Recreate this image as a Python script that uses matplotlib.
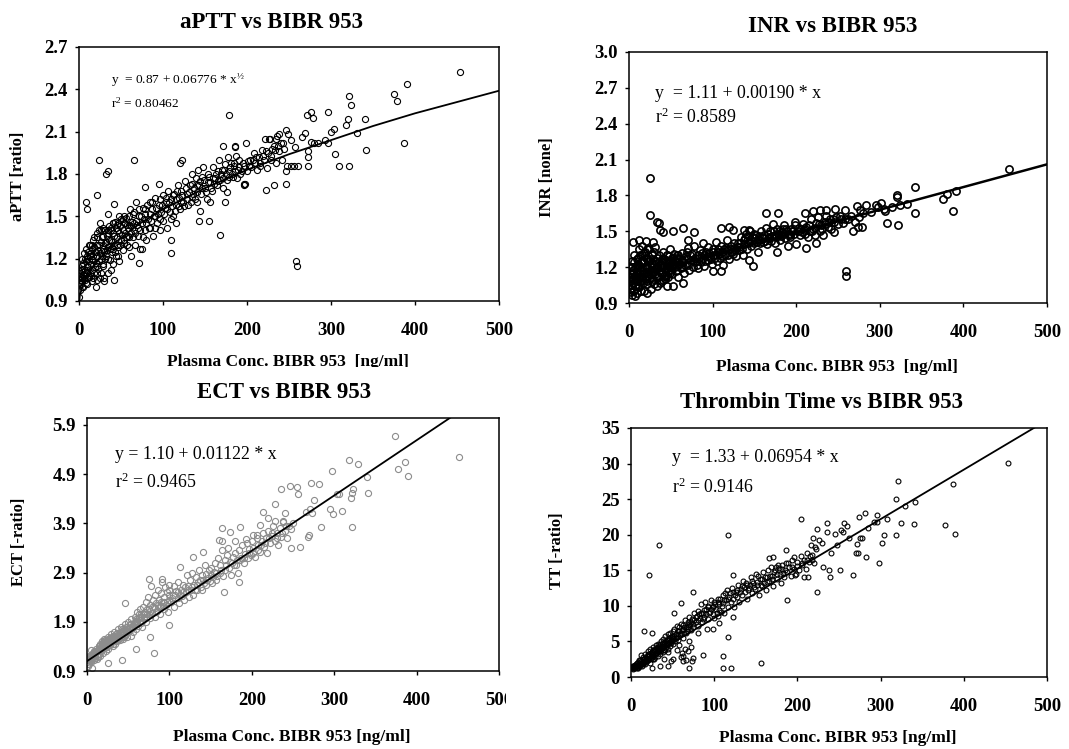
import matplotlib
matplotlib.use('Agg')
import matplotlib.pyplot as plt
from matplotlib.patches import Rectangle

plt.rcParams['font.family'] = ['Liberation Serif', 'DejaVu Serif']
plt.rcParams['mathtext.fontset'] = 'custom'
plt.rcParams['mathtext.rm'] = 'Liberation Serif'
plt.rcParams['mathtext.it'] = 'Liberation Serif:italic'
plt.rcParams['mathtext.bf'] = 'Liberation Serif:bold'

# ---- data: (plasma conc ng/ml, value) ----
aptt_points = [
    (0.5, 1.03), (1, 1.05), (1.5, 1.08), (2, 1.02), (2, 1.12), (3, 1.06), (3, 1.15), (4, 1.04), (4, 1.2),
    (5, 1.09), (5, 1.0), (1, 0.98), (0.5, 0.93), (6, 1.13), (6, 1.24), (7, 1.05), (8, 1.18), (8, 1.27),
    (9, 1.1), (10, 1.02), (10, 1.2), (11, 1.14), (12, 1.3), (12, 1.07), (13, 1.22), (14, 1.16), (15, 1.04),
    (15, 1.27), (16, 1.19), (17, 1.33), (18, 1.1), (19, 1.25), (20, 1.0), (20, 1.17), (21, 1.38), (22, 1.22),
    (23, 1.13), (24, 1.3), (25, 1.45), (25, 1.06), (26, 1.2), (27, 1.35), (28, 1.27), (29, 1.15), (30, 1.4),
    (30, 1.04), (31, 1.31), (32, 1.22), (33, 1.36), (34, 1.1), (35, 1.28), (36, 1.43), (37, 1.19), (38, 1.33),
    (39, 1.25), (40, 1.38), (41, 1.16), (42, 1.3), (43, 1.46), (44, 1.22), (45, 1.35), (46, 1.4), (47, 1.28),
    (48, 1.18), (49, 1.43), (50, 1.33), (50, 1.48),
    (1, 1.1), (2, 1.07), (3, 1.0), (4, 1.13), (5, 1.17), (6, 1.06), (7, 1.2), (7, 1.12), (8, 1.03), (9, 1.22),
    (9, 1.15), (10, 1.12), (11, 1.25), (11, 1.06), (12, 1.18), (13, 1.1), (13, 1.3), (14, 1.24), (14, 1.08),
    (15, 1.2), (16, 1.12), (16, 1.3), (17, 1.06), (17, 1.22), (18, 1.28), (18, 1.35), (19, 1.14), (20, 1.25),
    (21, 1.1), (21, 1.3), (22, 1.15), (22, 1.35), (23, 1.26), (24, 1.18), (24, 1.4), (25, 1.24), (26, 1.32),
    (26, 1.1), (27, 1.22), (28, 1.36), (28, 1.16), (29, 1.3), (30, 1.25), (31, 1.2), (31, 1.4), (32, 1.32),
    (33, 1.26), (34, 1.38), (35, 1.2), (36, 1.33), (37, 1.27), (38, 1.4), (39, 1.32), (40, 1.27), (41, 1.45),
    (42, 1.36), (43, 1.25), (44, 1.42), (45, 1.3), (46, 1.22), (47, 1.45), (48, 1.38), (49, 1.3), (52, 1.4),
    (54, 1.33), (55, 1.45), (58, 1.36), (60, 1.44), (62, 1.38), (22, 1.05), (30, 1.06), (38, 1.12),
    (52, 1.26), (53, 1.45), (55, 1.38), (56, 1.49), (57, 1.3), (58, 1.42), (60, 1.35), (61, 1.55), (62, 1.22),
    (63, 1.46), (65, 1.4), (66, 1.53), (67, 1.3), (68, 1.6), (69, 1.44), (70, 1.36), (72, 1.5), (73, 1.27),
    (75, 1.45), (76, 1.56), (78, 1.4), (79, 1.52), (80, 1.33), (82, 1.48), (84, 1.6), (85, 1.42), (87, 1.55),
    (88, 1.36), (90, 1.63), (91, 1.5), (93, 1.45), (95, 1.58), (96, 1.4), (98, 1.53), (100, 1.65), (100, 1.47),
    (102, 1.56), (104, 1.6), (105, 1.42), (106, 1.68), (108, 1.53), (110, 1.62), (112, 1.5), (113, 1.66),
    (115, 1.58), (116, 1.45), (118, 1.72), (119, 1.63), (120, 1.55), (122, 1.68), (124, 1.6), (126, 1.75),
    (128, 1.66), (130, 1.58), (132, 1.72), (134, 1.8), (135, 1.64), (137, 1.7), (139, 1.77), (140, 1.6),
    (142, 1.83), (143, 1.72), (145, 1.66), (147, 1.78), (148, 1.85), (150, 1.7), (152, 1.62), (154, 1.8),
    (156, 1.74), (158, 1.68), (160, 1.85), (162, 1.77), (164, 1.72), (165, 1.82), (167, 1.9), (168, 1.76),
    (170, 1.83), (172, 1.7), (174, 1.87), (175, 1.8), (177, 1.92), (178, 1.78), (180, 1.85), (182, 1.8),
    (184, 1.88), (186, 1.82), (188, 1.77), (190, 1.85), (192, 1.8), (195, 1.88), (198, 1.73), (200, 1.82),
    (203, 1.9), (205, 1.85), (208, 1.95), (210, 1.88), (212, 1.83), (214, 1.92), (216, 1.86), (218, 1.97),
    (220, 1.9), (222, 2.05), (224, 1.84), (225, 1.95), (227, 2.05), (229, 1.9), (230, 1.98), (232, 2.0),
    (234, 1.88), (236, 2.07), (238, 1.96), (240, 2.02), (242, 1.9), (244, 1.98), (280, 2.02), (285, 2.02),
    (293, 2.04), (235, 2.05), (226, 2.05), (238, 2.08),
    (51, 1.37), (53, 1.31), (54, 1.5), (56, 1.35), (57, 1.44), (59, 1.28), (60, 1.5), (62, 1.43), (64, 1.35),
    (64, 1.52), (66, 1.45), (67, 1.38), (68, 1.47), (70, 1.42), (71, 1.55), (73, 1.4), (74, 1.5), (76, 1.35),
    (77, 1.48), (78, 1.55), (80, 1.45), (81, 1.58), (83, 1.42), (84, 1.52), (86, 1.47), (87, 1.6), (89, 1.5),
    (90, 1.42), (92, 1.56), (94, 1.52), (96, 1.62), (97, 1.48), (99, 1.58), (101, 1.52), (103, 1.63),
    (105, 1.55), (107, 1.6), (109, 1.48), (111, 1.57), (112, 1.65), (114, 1.54), (116, 1.62), (117, 1.68),
    (119, 1.57), (121, 1.6), (123, 1.65), (125, 1.57), (127, 1.7), (129, 1.62), (131, 1.67), (133, 1.6),
    (134, 1.73), (136, 1.66), (138, 1.62), (140, 1.72), (141, 1.67), (144, 1.75), (146, 1.7), (149, 1.76),
    (151, 1.67), (153, 1.74), (155, 1.78), (157, 1.7), (159, 1.77), (161, 1.73), (163, 1.8), (166, 1.75),
    (169, 1.8), (171, 1.77), (173, 1.83), (176, 1.76), (179, 1.82), (181, 1.88), (183, 1.78), (185, 1.86),
    (189, 1.83), (191, 1.9), (194, 1.82), (197, 1.86), (202, 1.86), (207, 1.9), (211, 1.92), (215, 1.88),
    (219, 1.93), (223, 1.96), (228, 1.93), (233, 1.97), (237, 2.0), (243, 2.02), (40, 1.45), (45, 1.44),
    (48, 1.5), (52, 1.48), (35, 1.4), (38, 1.42), (26, 1.4), (28, 1.42),
    (454, 2.52), (390, 2.44), (375, 2.37), (378, 2.32), (387, 2.02), (322, 2.35), (324, 2.29), (320, 2.19),
    (318, 2.15), (321, 1.86), (341, 2.19), (342, 1.97), (331, 2.09), (297, 2.24), (297, 2.02), (300, 2.1),
    (303, 2.12), (305, 1.94), (310, 1.86), (276, 2.24), (272, 2.22), (278, 2.2), (276, 2.03), (273, 1.96),
    (273, 1.92), (273, 1.86), (269, 2.09), (266, 2.06), (247, 2.11), (249, 2.08), (252, 2.04), (257, 1.99),
    (248, 1.86), (252, 1.86), (256, 1.86), (261, 1.86), (247, 1.73), (246, 1.82), (232, 1.72), (223, 1.69),
    (258, 1.18), (259, 1.15), (179, 2.22), (186, 2.0), (186, 1.99), (187, 1.93), (172, 2.0), (199, 2.02),
    (201, 1.89), (197, 1.72), (196, 1.73), (168, 1.37), (174, 1.6), (176, 1.67), (120, 1.88), (123, 1.9),
    (110, 1.24), (110, 1.33), (72, 1.17), (75, 1.27), (65, 1.9), (24, 1.9), (32, 1.8), (34, 1.82), (21, 1.65),
    (8, 1.6), (9, 1.55), (34, 1.52), (42, 1.59), (79, 1.71), (95, 1.73), (144, 1.54), (143, 1.47),
    (155, 1.47), (156, 1.6), (42, 1.05),
]
aptt_fit_x = [0, 1, 5, 10, 20, 40, 70, 100, 150, 200, 250, 300, 350, 400, 450, 500]
aptt_fit_y = [0.87, 0.94, 1.02, 1.08, 1.17, 1.30, 1.44, 1.55, 1.70, 1.83, 1.94, 2.04, 2.14, 2.23, 2.31, 2.39]

inr_points = [
    (0.5, 1.08), (1, 1.02), (1, 1.15), (2, 1.1), (2, 0.99), (3, 1.2), (3, 1.05), (4, 1.12), (4, 0.97),
    (5, 1.18), (5, 1.07), (6, 1.24), (6, 1.01), (7, 1.13), (8, 1.2), (8, 1.05), (9, 1.27), (10, 1.1),
    (10, 0.98), (11, 1.16), (12, 1.22), (12, 1.03), (13, 1.3), (14, 1.08), (15, 1.18), (15, 1.38), (16, 1.12),
    (17, 1.25), (18, 1.0), (18, 1.15), (19, 1.33), (20, 1.2), (21, 1.06), (22, 1.27), (23, 1.13), (24, 1.35),
    (25, 1.18), (26, 1.02), (27, 1.23), (28, 1.3), (29, 1.1), (30, 1.17), (31, 1.37), (32, 1.25), (33, 1.04),
    (34, 1.2), (35, 1.13), (36, 1.3), (37, 1.22), (38, 1.08), (39, 1.27), (40, 1.16), (41, 1.33), (42, 1.21),
    (43, 1.1), (44, 1.26), (45, 1.19), (46, 1.3), (47, 1.12), (48, 1.24), (49, 1.35), (50, 1.18), (51, 1.28),
    (52, 1.14), (53, 1.22), (54, 1.31), (55, 1.25), (56, 1.17), (57, 1.3), (58, 1.21), (59, 1.12), (60, 1.27),
    (1, 1.12), (2, 1.05), (3, 1.14), (4, 1.2), (5, 1.0), (6, 1.1), (7, 1.19), (7, 1.04), (8, 1.14), (9, 1.08),
    (10, 1.22), (11, 1.04), (11, 1.28), (12, 1.12), (13, 1.18), (14, 1.24), (14, 1.0), (15, 1.1), (16, 1.2),
    (16, 1.3), (17, 1.07), (17, 1.15), (18, 1.24), (19, 1.1), (20, 1.13), (20, 1.28), (21, 1.2), (22, 1.08),
    (22, 1.16), (23, 1.24), (24, 1.1), (25, 1.27), (26, 1.14), (27, 1.08), (27, 1.31), (28, 1.2), (29, 1.16),
    (30, 1.25), (30, 1.06), (31, 1.14), (32, 1.19), (33, 1.28), (34, 1.11), (35, 1.24), (36, 1.17), (37, 1.07),
    (38, 1.2), (39, 1.14), (40, 1.24), (41, 1.09), (42, 1.27), (43, 1.18), (44, 1.13), (45, 1.3), (46, 1.22),
    (47, 1.17), (48, 1.29), (49, 1.15), (50, 1.25), (52, 1.2), (54, 1.26), (56, 1.24), (58, 1.28),
    (3, 1.25), (6, 1.3), (9, 1.18), (12, 1.35), (15, 1.25), (18, 1.32), (21, 1.35), (24, 1.25), (27, 1.18),
    (30, 1.33), (33, 1.2), (36, 1.24), (39, 1.2), (42, 1.13), (45, 1.24), (48, 1.2), (51, 1.22), (53, 1.28),
    (55, 1.2), (57, 1.25), (59, 1.3), (61, 1.23), (63, 1.26), (64, 1.2), (67, 1.22), (69, 1.33), (70, 1.27),
    (73, 1.3), (76, 1.25), (79, 1.28), (81, 1.22), (84, 1.28), (87, 1.32), (90, 1.3), (91, 1.25), (93, 1.29),
    (96, 1.32), (98, 1.27), (101, 1.33), (103, 1.28), (106, 1.35), (108, 1.31), (111, 1.33), (113, 1.29),
    (116, 1.36), (118, 1.3), (121, 1.35), (123, 1.33), (125, 1.4), (127, 1.34), (129, 1.37), (131, 1.37),
    (133, 1.4), (135, 1.35), (137, 1.43), (139, 1.44), (142, 1.4), (144, 1.46), (147, 1.42), (149, 1.48),
    (151, 1.44), (153, 1.41), (155, 1.46), (157, 1.4), (159, 1.45), (161, 1.44), (163, 1.42), (166, 1.48),
    (168, 1.44), (171, 1.46), (173, 1.5), (176, 1.45), (178, 1.48), (180, 1.5), (182, 1.46), (184, 1.52),
    (186, 1.48), (188, 1.52), (191, 1.48), (193, 1.45), (195, 1.5), (197, 1.48), (203, 1.53), (207, 1.49),
    (211, 1.52), (215, 1.55), (219, 1.5), (223, 1.53), (227, 1.56), (231, 1.52), (235, 1.56), (239, 1.58),
    (244, 1.6), (252, 1.63), (258, 1.6),
    (62, 1.19), (63, 1.32), (65, 1.24), (66, 1.15), (68, 1.29), (70, 1.22), (71, 1.36), (72, 1.18), (74, 1.26),
    (75, 1.31), (77, 1.2), (78, 1.38), (80, 1.25), (82, 1.3), (83, 1.19), (85, 1.34), (86, 1.24), (88, 1.4),
    (89, 1.28), (90, 1.21), (92, 1.33), (94, 1.26), (95, 1.37), (97, 1.29), (99, 1.23), (100, 1.35),
    (102, 1.3), (104, 1.41), (105, 1.25), (107, 1.33), (109, 1.28), (110, 1.38), (112, 1.22), (114, 1.35),
    (115, 1.3), (117, 1.43), (119, 1.34), (120, 1.27), (122, 1.38), (124, 1.31), (126, 1.36), (128, 1.29),
    (130, 1.4), (132, 1.34), (134, 1.45), (136, 1.3), (138, 1.39), (140, 1.48), (141, 1.35), (143, 1.42),
    (145, 1.5), (146, 1.38), (148, 1.45), (150, 1.4), (152, 1.47), (154, 1.33), (156, 1.43), (158, 1.5),
    (160, 1.41), (162, 1.47), (164, 1.53), (165, 1.39), (167, 1.45), (169, 1.5), (170, 1.42), (172, 1.56),
    (174, 1.46), (175, 1.4), (177, 1.52), (179, 1.47), (181, 1.43), (183, 1.49), (185, 1.55), (187, 1.44),
    (189, 1.5), (190, 1.38), (192, 1.47), (194, 1.52), (196, 1.5), (198, 1.55), (202, 1.5), (204, 1.47),
    (206, 1.52), (208, 1.56), (210, 1.48), (212, 1.54), (214, 1.45), (216, 1.5), (218, 1.6), (220, 1.52),
    (222, 1.47), (224, 1.57), (226, 1.62), (228, 1.5), (230, 1.55), (232, 1.47), (234, 1.58), (236, 1.63),
    (238, 1.54), (240, 1.6), (242, 1.52), (245, 1.58), (248, 1.62), (250, 1.56), (253, 1.6), (256, 1.57),
    (262, 1.6), (265, 1.63), (270, 1.58), (275, 1.62), (280, 1.65), (290, 1.66), (298, 1.7), (305, 1.69),
    (315, 1.7),
    (454, 2.02), (391, 1.84), (387, 1.67), (376, 1.77), (380, 1.81), (342, 1.87), (342, 1.65), (320, 1.80),
    (321, 1.79), (322, 1.55), (309, 1.57), (324, 1.72), (332, 1.73), (302, 1.74), (296, 1.72), (306, 1.67),
    (284, 1.72), (273, 1.71), (276, 1.68), (268, 1.50), (274, 1.54), (279, 1.54), (259, 1.165), (260, 1.13),
    (245, 1.49), (25, 1.95), (25, 1.64), (33, 1.58), (36, 1.57), (64, 1.53), (53, 1.50), (37, 1.51),
    (41, 1.49), (148, 1.21), (144, 1.26), (143, 1.51), (138, 1.51), (120, 1.54), (124, 1.51), (110, 1.53),
    (100, 1.165), (110, 1.165), (212, 1.36), (200, 1.39), (224, 1.40), (177, 1.33), (164, 1.65), (178, 1.65),
    (210, 1.65), (220, 1.67), (228, 1.68), (236, 1.68), (246, 1.69), (258, 1.68), (198, 1.58), (5, 1.41),
    (12, 1.43), (20, 1.42), (29, 1.41), (70, 1.43), (78, 1.49), (65, 1.07), (53, 1.04), (45, 1.04),
    (21, 0.985), (7, 0.955),
]
inr_fit_x = [0, 500]
inr_fit_y = [1.11, 2.06]

ect_points = [
    (0.5, 1.08), (1, 1.15), (1.5, 1.0), (2, 1.12), (3, 1.05), (3, 1.2), (4, 1.14), (5, 1.22), (5, 1.08),
    (6, 0.97), (6, 1.18), (7, 1.26), (8, 1.12), (8, 1.2), (9, 1.3), (10, 1.17), (10, 1.24), (11, 1.35),
    (12, 1.22), (12, 1.14), (13, 1.3), (14, 1.4), (14, 1.25), (15, 1.33), (16, 1.2), (16, 1.45), (17, 1.3),
    (18, 1.38), (18, 1.5), (19, 1.27), (20, 1.42), (20, 1.34), (21, 1.55), (22, 1.38), (22, 1.47), (23, 1.3),
    (24, 1.52), (25, 1.42), (25, 1.6), (26, 1.35), (27, 1.5), (28, 1.57), (28, 1.42), (29, 1.65), (30, 1.48),
    (30, 1.55), (31, 1.4), (32, 1.62), (33, 1.52), (33, 1.7), (34, 1.45), (35, 1.6), (36, 1.67), (36, 1.5),
    (37, 1.58), (38, 1.75), (39, 1.62), (40, 1.52), (40, 1.7), (41, 1.8), (42, 1.6), (43, 1.68), (44, 1.55),
    (45, 1.75), (46, 1.64), (46, 1.85), (47, 1.72), (48, 1.6), (49, 1.8), (50, 1.7), (50, 1.9),
    (2, 1.18), (4, 1.1), (6, 1.25), (7, 1.16), (9, 1.2), (11, 1.28), (13, 1.18), (15, 1.4), (17, 1.36),
    (19, 1.45), (21, 1.4), (23, 1.5), (24, 1.38), (26, 1.5), (27, 1.42), (29, 1.52), (31, 1.58), (32, 1.45),
    (34, 1.62), (35, 1.52), (37, 1.68), (39, 1.55), (42, 1.72), (44, 1.65), (45, 1.6), (47, 1.8), (48, 1.7),
    (51, 1.75), (53, 1.85), (56, 1.8), (58, 1.9), (60, 1.85), (62, 1.95), (64, 1.9), (66, 2.0),
    (1, 1.05), (3, 1.12), (5, 1.15), (8, 1.25), (10, 1.3), (12, 1.3), (14, 1.32), (16, 1.38), (18, 1.42),
    (20, 1.48), (22, 1.52), (24, 1.45), (26, 1.55), (28, 1.5), (30, 1.6), (32, 1.55), (34, 1.55), (36, 1.6),
    (38, 1.65), (40, 1.62), (41, 1.7), (43, 1.75), (45, 1.68), (47, 1.65), (49, 1.75), (52, 1.85), (54, 1.75),
    (57, 1.82), (59, 1.95), (61, 1.9), (63, 2.05), (65, 2.0), (67, 1.92), (69, 2.05), (71, 2.0), (73, 2.15),
    (75, 2.05), (77, 2.12), (79, 2.2), (82, 2.18), (84, 2.1), (86, 2.25), (88, 2.2), (90, 2.3), (92, 2.22),
    (94, 2.3), (97, 2.3), (99, 2.45), (103, 2.38), (107, 2.45), (111, 2.5), (113, 2.45), (117, 2.5),
    (119, 2.6), (123, 2.55), (127, 2.6), (131, 2.55), (134, 2.65), (137, 2.75), (142, 2.68), (146, 2.75),
    (153, 2.8), (157, 2.9), (163, 2.95), (169, 3.05), (176, 3.1), (181, 3.05), (186, 3.15), (191, 3.2),
    (196, 3.3), (201, 3.3), (207, 3.35), (211, 3.45), (216, 3.5), (221, 3.6), (225, 3.7), (231, 3.6),
    (237, 3.7), (242, 3.85),
    (52, 1.78), (53, 1.62), (54, 1.95), (55, 1.82), (56, 1.7), (57, 1.88), (58, 2.0), (59, 1.76), (60, 1.92),
    (61, 2.1), (62, 1.82), (63, 1.98), (64, 2.15), (65, 1.88), (66, 2.05), (67, 1.8), (68, 2.2), (69, 1.95),
    (70, 2.1), (71, 2.3), (72, 1.9), (73, 2.05), (74, 2.4), (75, 2.15), (76, 1.98), (77, 2.25), (78, 2.62),
    (79, 2.08), (80, 2.35), (81, 2.2), (82, 2.0), (83, 2.45), (84, 2.28), (85, 2.12), (86, 2.55), (87, 2.35),
    (88, 2.05), (89, 2.22), (90, 2.48), (91, 2.7), (92, 2.3), (93, 2.15), (94, 2.4), (95, 2.6), (96, 2.25),
    (97, 2.5), (98, 2.1), (99, 2.35), (100, 2.55), (100, 2.65),
    (102, 2.3), (104, 2.45), (105, 2.62), (106, 2.2), (108, 2.52), (110, 2.38), (110, 2.7), (112, 2.28),
    (114, 2.55), (115, 2.42), (116, 2.65), (118, 2.35), (120, 2.5), (121, 2.85), (122, 2.62), (124, 2.4),
    (125, 2.75), (126, 2.55), (128, 2.9), (129, 2.45), (130, 2.65), (132, 2.8), (133, 2.55), (135, 2.7),
    (136, 2.95), (138, 2.6), (139, 2.85), (140, 2.55), (141, 2.75), (143, 3.05), (144, 2.65), (145, 2.88),
    (147, 2.78), (148, 2.95), (149, 2.72), (150, 3.0), (151, 2.85), (152, 2.68), (154, 2.92), (155, 3.1),
    (156, 2.75), (158, 2.82), (159, 3.2),
    (161, 2.9), (162, 3.05), (164, 3.35), (165, 2.82), (167, 3.15), (168, 2.95), (170, 3.25), (171, 3.4),
    (172, 3.0), (174, 3.12), (175, 2.85), (177, 3.22), (178, 3.05), (180, 3.3), (182, 3.15), (183, 2.9),
    (185, 3.35), (187, 3.2), (188, 3.45), (190, 3.1), (192, 3.28), (194, 3.5), (195, 3.2), (197, 3.38),
    (199, 3.25), (200, 3.55), (202, 3.4), (204, 3.22), (206, 3.6), (208, 3.45), (210, 3.32), (212, 3.55),
    (213, 3.7), (215, 3.42), (217, 3.6), (219, 3.3), (220, 3.75), (222, 3.5), (224, 3.65), (226, 3.85),
    (228, 3.55), (230, 3.7), (232, 3.45), (234, 3.8), (236, 3.62), (238, 3.95), (240, 3.75), (243, 3.6),
    (245, 3.85), (248, 3.78), (250, 3.9),
    (452, 5.24), (374, 5.68), (386, 5.15), (378, 5.0), (389, 4.86), (340, 4.84), (341, 4.52), (318, 5.19),
    (329, 5.1), (323, 4.6), (320, 4.41), (321, 4.51), (321, 3.83), (297, 4.96), (272, 4.71), (282, 4.69),
    (304, 4.5), (306, 4.5), (309, 4.15), (299, 4.08), (295, 4.2), (275, 4.37), (271, 4.2), (266, 4.14),
    (273, 4.1), (284, 3.83), (270, 3.67), (268, 3.63), (258, 3.42), (247, 3.39), (235, 4.6), (246, 4.65),
    (255, 4.63), (256, 4.5), (228, 4.29), (240, 4.1), (228, 3.95), (238, 3.93), (220, 4.01), (210, 3.87),
    (213, 4.14), (164, 3.8), (173, 3.73), (186, 3.82), (160, 3.57), (164, 3.55), (180, 3.55), (193, 3.59),
    (202, 3.67), (206, 3.67), (141, 3.32), (129, 3.22), (113, 3.02), (166, 2.51), (185, 2.7), (81, 1.27),
    (46, 2.29), (76, 1.59), (59, 1.35), (43, 1.12), (26, 1.06), (5, 1.32), (75, 2.76), (91, 2.76),
    (100, 1.83),
]
ect_fit_x = [0, 500]
ect_fit_y = [1.10, 6.71]

tt_points = [
    (1, 1.2), (2, 1.5), (3, 1.1), (3, 1.4), (4, 1.3), (5, 1.7), (5, 1.2), (6, 1.5), (7, 1.9), (7, 1.3),
    (8, 1.6), (9, 2.1), (10, 1.5), (10, 2.4), (11, 1.8), (12, 2.2), (12, 3.1), (13, 1.6), (14, 2.5),
    (15, 2.0), (15, 2.8), (16, 2.3), (17, 3.2), (17, 1.8), (18, 2.7), (19, 2.2), (20, 3.0), (20, 3.6),
    (21, 2.5), (22, 3.3), (23, 2.0), (23, 3.9), (24, 2.9), (25, 3.5), (26, 2.6), (26, 4.2), (27, 3.2),
    (28, 3.8), (29, 2.8), (30, 4.5), (30, 3.4), (31, 4.0), (32, 3.0), (33, 4.7), (33, 3.7), (34, 4.3),
    (35, 3.3), (36, 5.0), (36, 4.0), (37, 4.6), (38, 3.5), (38, 5.4), (39, 4.2), (40, 4.9), (41, 3.8),
    (41, 5.7), (42, 4.5), (43, 5.2), (44, 4.0), (44, 6.0), (45, 4.8), (46, 5.5), (47, 4.3), (47, 6.2),
    (48, 5.1), (49, 5.8), (50, 4.6), (50, 6.5),
    (2, 1.3), (4, 1.5), (6, 1.8), (8, 1.4), (9, 1.7), (11, 2.4), (13, 2.0), (14, 1.8), (16, 2.6), (18, 2.2),
    (19, 3.0), (21, 3.2), (22, 2.6), (24, 3.4), (25, 2.8), (27, 3.8), (28, 3.2), (29, 4.0), (31, 3.4),
    (32, 4.2), (34, 3.7), (35, 4.6), (37, 4.1), (39, 4.8), (40, 4.3), (42, 5.1), (43, 4.6), (45, 5.3),
    (46, 4.8), (48, 5.6), (49, 5.0),
    (3, 1.6), (5, 1.4), (7, 1.6), (9, 1.3), (11, 1.6), (12, 1.8), (14, 2.2), (16, 2.0), (18, 2.5), (20, 2.4),
    (22, 2.9), (24, 2.5), (26, 3.0), (28, 2.6), (30, 3.8), (32, 3.6), (34, 4.0), (36, 3.6), (38, 4.4),
    (40, 3.8), (42, 4.2), (44, 4.6), (46, 5.2), (48, 4.8), (50, 5.5), (52, 5.8), (54, 5.5), (56, 6.0),
    (58, 6.4), (60, 6.2), (62, 6.8), (64, 7.0), (66, 6.2), (68, 7.0), (70, 7.5), (72, 7.8), (74, 7.0),
    (76, 8.0), (78, 8.4), (80, 8.0), (82, 8.8), (84, 9.0), (86, 8.2), (88, 9.4), (90, 8.8), (92, 9.8),
    (94, 9.0), (96, 9.5), (98, 10.0), (101, 10.2), (103, 9.0), (105, 10.5), (107, 11.0), (109, 10.0),
    (112, 10.8), (113, 11.8), (116, 11.0), (119, 11.8), (122, 12.0), (125, 11.5), (128, 12.2), (131, 12.0),
    (133, 12.8), (136, 12.6), (138, 13.2), (141, 12.2), (143, 13.0), (146, 13.5), (148, 12.6), (151, 13.4),
    (153, 14.2), (156, 13.0), (158, 13.8), (161, 14.0), (163, 13.4), (165, 15.0), (167, 14.2), (169, 13.8),
    (172, 14.8), (174, 15.5), (176, 14.5), (178, 15.3), (181, 15.8), (183, 14.6), (185, 15.0), (189, 16.0),
    (193, 15.4), (199, 15.6), (205, 16.0), (211, 16.5), (215, 17.0), (218, 16.5),
    (40, 2.5), (45, 3.5), (48, 2.2), (55, 3.8), (58, 4.5), (62, 3.0), (65, 4.0), (68, 3.6), (70, 5.0),
    (72, 4.2), (66, 2.4), (60, 2.8),
    (51, 5.4), (52, 6.8), (53, 5.0), (54, 6.1), (55, 5.6), (55, 7.2), (56, 6.4), (57, 5.2), (58, 7.0),
    (59, 6.0), (60, 7.5), (61, 6.6), (62, 5.5), (63, 7.3), (64, 6.2), (65, 8.0), (66, 7.0), (67, 6.4),
    (68, 7.8), (69, 6.8), (70, 8.5), (71, 7.3), (72, 6.6), (73, 8.2), (75, 7.5), (76, 9.0), (78, 7.8),
    (79, 8.6), (80, 7.2), (81, 9.3), (83, 8.3), (84, 10.2), (85, 7.7), (86, 9.0), (88, 8.5), (89, 10.5),
    (90, 9.6), (92, 8.2), (93, 10.0), (95, 9.2), (96, 10.8), (98, 8.8), (99, 9.8), (100, 10.5), (100, 8.3),
    (102, 9.5), (104, 11.0), (105, 8.6), (106, 10.2), (108, 9.2), (110, 11.5), (111, 10.4), (112, 9.0),
    (114, 10.8), (115, 12.2), (117, 9.8), (118, 11.3), (120, 10.5), (121, 12.5), (123, 11.0), (124, 9.8),
    (126, 12.0), (127, 11.2), (129, 13.0), (130, 10.6), (132, 12.3), (134, 11.5), (135, 13.5), (137, 12.0),
    (139, 11.0), (140, 13.0), (142, 12.5), (144, 14.0), (145, 11.8), (147, 13.2), (149, 12.4), (150, 14.5),
    (152, 13.0), (154, 11.5), (155, 13.8), (157, 12.8), (159, 14.8), (160, 13.2),
    (162, 12.2), (164, 14.0), (166, 13.5), (168, 15.5), (170, 14.2), (171, 12.8), (173, 15.0), (175, 13.8),
    (177, 15.8), (179, 14.5), (180, 13.2), (182, 15.2), (184, 14.0), (186, 16.0), (188, 14.8), (190, 15.5),
    (192, 14.2), (194, 16.5), (196, 15.2), (198, 14.5), (200, 16.2), (202, 15.0), (204, 17.0), (206, 15.8),
    (208, 16.5), (210, 15.2), (212, 17.5), (214, 16.2), (216, 18.5), (218, 17.2), (220, 16.0), (222, 18.0),
    (240, 17.5), (248, 18.5), (262, 19.5), (285, 21.0), (292, 21.8),
    (453, 30.1), (387, 27.1), (378, 21.3), (390, 20.1), (341, 24.6), (340, 21.5), (329, 24.0), (321, 27.6),
    (318, 25.0), (318, 19.9), (324, 21.7), (308, 22.2), (296, 21.8), (296, 22.8), (298, 16.0), (302, 18.8),
    (304, 19.9), (283, 16.9), (281, 23.1), (274, 22.5), (278, 19.5), (275, 19.6), (272, 18.7), (270, 17.5),
    (273, 17.5), (267, 14.3), (256, 21.7), (260, 21.2), (252, 20.6), (255, 20.4), (245, 20.1), (251, 15.0),
    (238, 15.1), (239, 14.1), (236, 21.7), (235, 20.4), (224, 20.8), (204, 22.2), (223, 11.9), (231, 15.4),
    (208, 14.1), (213, 14.1), (219, 19.5), (226, 19.3), (229, 18.8), (221, 18.3), (188, 10.8), (186, 17.8),
    (196, 16.8), (197, 14.3), (171, 16.9), (166, 16.7), (117, 19.9), (122, 14.3), (122, 8.4), (116, 5.6),
    (110, 2.9), (111, 1.2), (120, 1.3), (156, 2.0), (87, 3.1), (70, 1.2), (73, 2.3), (75, 2.7), (74, 12.0),
    (52, 9.0), (60, 10.4), (34, 18.6), (22, 14.3), (16, 6.4), (25, 6.2), (25, 1.2), (35, 1.6), (44, 1.6),
    (51, 2.6), (63, 2.3), (61, 3.4), (80, 6.2), (91, 6.8), (99, 6.8), (106, 7.6), (106, 9.4),
]
tt_fit_x = [0, 500]
tt_fit_y = [1.33, 36.1]

x_ticks = [0, 100, 200, 300, 400, 500]
aptt_yticks = [0.9, 1.2, 1.5, 1.8, 2.1, 2.4, 2.7]
inr_yticks = [0.9, 1.2, 1.5, 1.8, 2.1, 2.4, 2.7, 3.0]
ect_yticks = [0.9, 1.9, 2.9, 3.9, 4.9, 5.9]
tt_yticks = [0, 5, 10, 15, 20, 25, 30, 35]

W, H = 1069, 749
fig = plt.figure(figsize=(W / 100, H / 100), dpi=100)


def box(l, t, r, b):
    # pixel box -> figure fraction rect
    return [l / W, 1 - b / H, (r - l) / W, (b - t) / H]


def ftext(px, py, s, **kw):
    fig.text(px / W, 1 - py / H, s, **kw)


def make_panel(rect, points, fit_x, fit_y, yticks, ylim, ylabels, color, msize, mew, flw):
    ax = fig.add_axes(rect)
    xs = [p[0] for p in points]
    ys = [p[1] for p in points]
    ax.plot(xs, ys, 'o', mfc='none', mec=color, ms=msize, mew=mew, ls='none')
    ax.plot(fit_x, fit_y, '-', color='black', lw=flw)
    ax.set_xlim(0, 500)
    ax.set_ylim(*ylim)
    ax.set_xticks(x_ticks, [str(v) for v in x_ticks], fontsize=13.5, fontweight='bold')
    ax.set_yticks(yticks, ylabels, fontsize=13.5, fontweight='bold')
    ax.tick_params(axis='x', direction='out', length=3, width=1, pad=12)
    ax.tick_params(axis='y', direction='out', length=3, width=1, pad=5)
    for sp in ax.spines.values():
        sp.set_linewidth(1.1)
    return ax


# aPTT
make_panel(box(79, 47, 499, 301), aptt_points, aptt_fit_x, aptt_fit_y, aptt_yticks, (0.9, 2.7),
           ['%.1f' % v for v in aptt_yticks], 'black', 4.4, 0.8, 1.3)
ftext(272, 22, 'aPTT vs BIBR 953', ha='center', va='center', fontsize=16.5, fontweight='bold')
ftext(18, 176, 'aPTT [ratio]', ha='center', va='center', rotation=90, fontsize=12, fontweight='bold')
ftext(288, 362, 'Plasma Conc. BIBR 953  [ng/ml]', ha='center', va='center', fontsize=12.5, fontweight='bold')
ftext(111, 80, 'y  = 0.87 + 0.06776 * x$^{\\mathrm{½}}$', ha='left', va='center', fontsize=9.6)
ftext(111, 103, 'r$^{\\mathrm{2}}$ = 0.80462', ha='left', va='center', fontsize=9.6)

# INR
make_panel(box(629, 52, 1047, 303), inr_points, inr_fit_x, inr_fit_y, inr_yticks, (0.9, 3.0),
           ['%.1f' % v for v in inr_yticks], 'black', 5.2, 1.2, 1.8)
ftext(833, 27, 'INR vs BIBR 953', ha='center', va='center', fontsize=16.5, fontweight='bold')
ftext(547, 177, 'INR [none]', ha='center', va='center', rotation=90, fontsize=12, fontweight='bold')
ftext(837, 367, 'Plasma Conc. BIBR 953  [ng/ml]', ha='center', va='center', fontsize=12.5, fontweight='bold')
ftext(655, 93, 'y  = 1.11 + 0.00190 * x', ha='left', va='center', fontsize=12.8)
ftext(655, 117, 'r$^{\\mathrm{2}}$ = 0.8589', ha='left', va='center', fontsize=12.8)

# ECT
make_panel(box(87, 418, 499, 671), ect_points, ect_fit_x, ect_fit_y, ect_yticks, (0.9, 6.04),
           ['%.1f' % v for v in ect_yticks], '#8c8c8c', 4.4, 0.8, 1.3)
ftext(284, 393, 'ECT vs BIBR 953', ha='center', va='center', fontsize=16.5, fontweight='bold')
ftext(19, 542, 'ECT [-ratio]', ha='center', va='center', rotation=90, fontsize=12, fontweight='bold')
ftext(292, 737, 'Plasma Conc. BIBR 953 [ng/ml]', ha='center', va='center', fontsize=12.5, fontweight='bold')
ftext(115, 454, 'y = 1.10 + 0.01122 * x', ha='left', va='center', fontsize=12.8)
ftext(115, 482, 'r$^{\\mathrm{2}}$ = 0.9465', ha='left', va='center', fontsize=12.8)

# Thrombin time
make_panel(box(631, 428, 1047, 677), tt_points, tt_fit_x, tt_fit_y, tt_yticks, (0, 35),
           [str(v) for v in tt_yticks], 'black', 3.5, 0.8, 1.3)
ftext(821, 402, 'Thrombin Time vs BIBR 953', ha='center', va='center', fontsize=16.5, fontweight='bold')
ftext(557, 551, 'TT [-ratio]', ha='center', va='center', rotation=90, fontsize=12, fontweight='bold')
ftext(838, 738, 'Plasma Conc. BIBR 953 [ng/ml]', ha='center', va='center', fontsize=12.5, fontweight='bold')
ftext(672, 458, 'y  = 1.33 + 0.06954 * x', ha='left', va='center', fontsize=12.8)
ftext(672, 487, 'r$^{\\mathrm{2}}$ = 0.9146', ha='left', va='center', fontsize=12.8)

# the source panels were pasted over each other: hide the clipped parts
fig.add_artist(Rectangle((0, 1 - 378 / H), 540 / W, 11 / H, transform=fig.transFigure,
                         facecolor='white', edgecolor='none', zorder=10))
fig.add_artist(Rectangle((506 / W, 1 - 720 / H), 30 / W, 40 / H, transform=fig.transFigure,
                         facecolor='white', edgecolor='none', zorder=10))

fig.savefig('out.png', dpi=100)
